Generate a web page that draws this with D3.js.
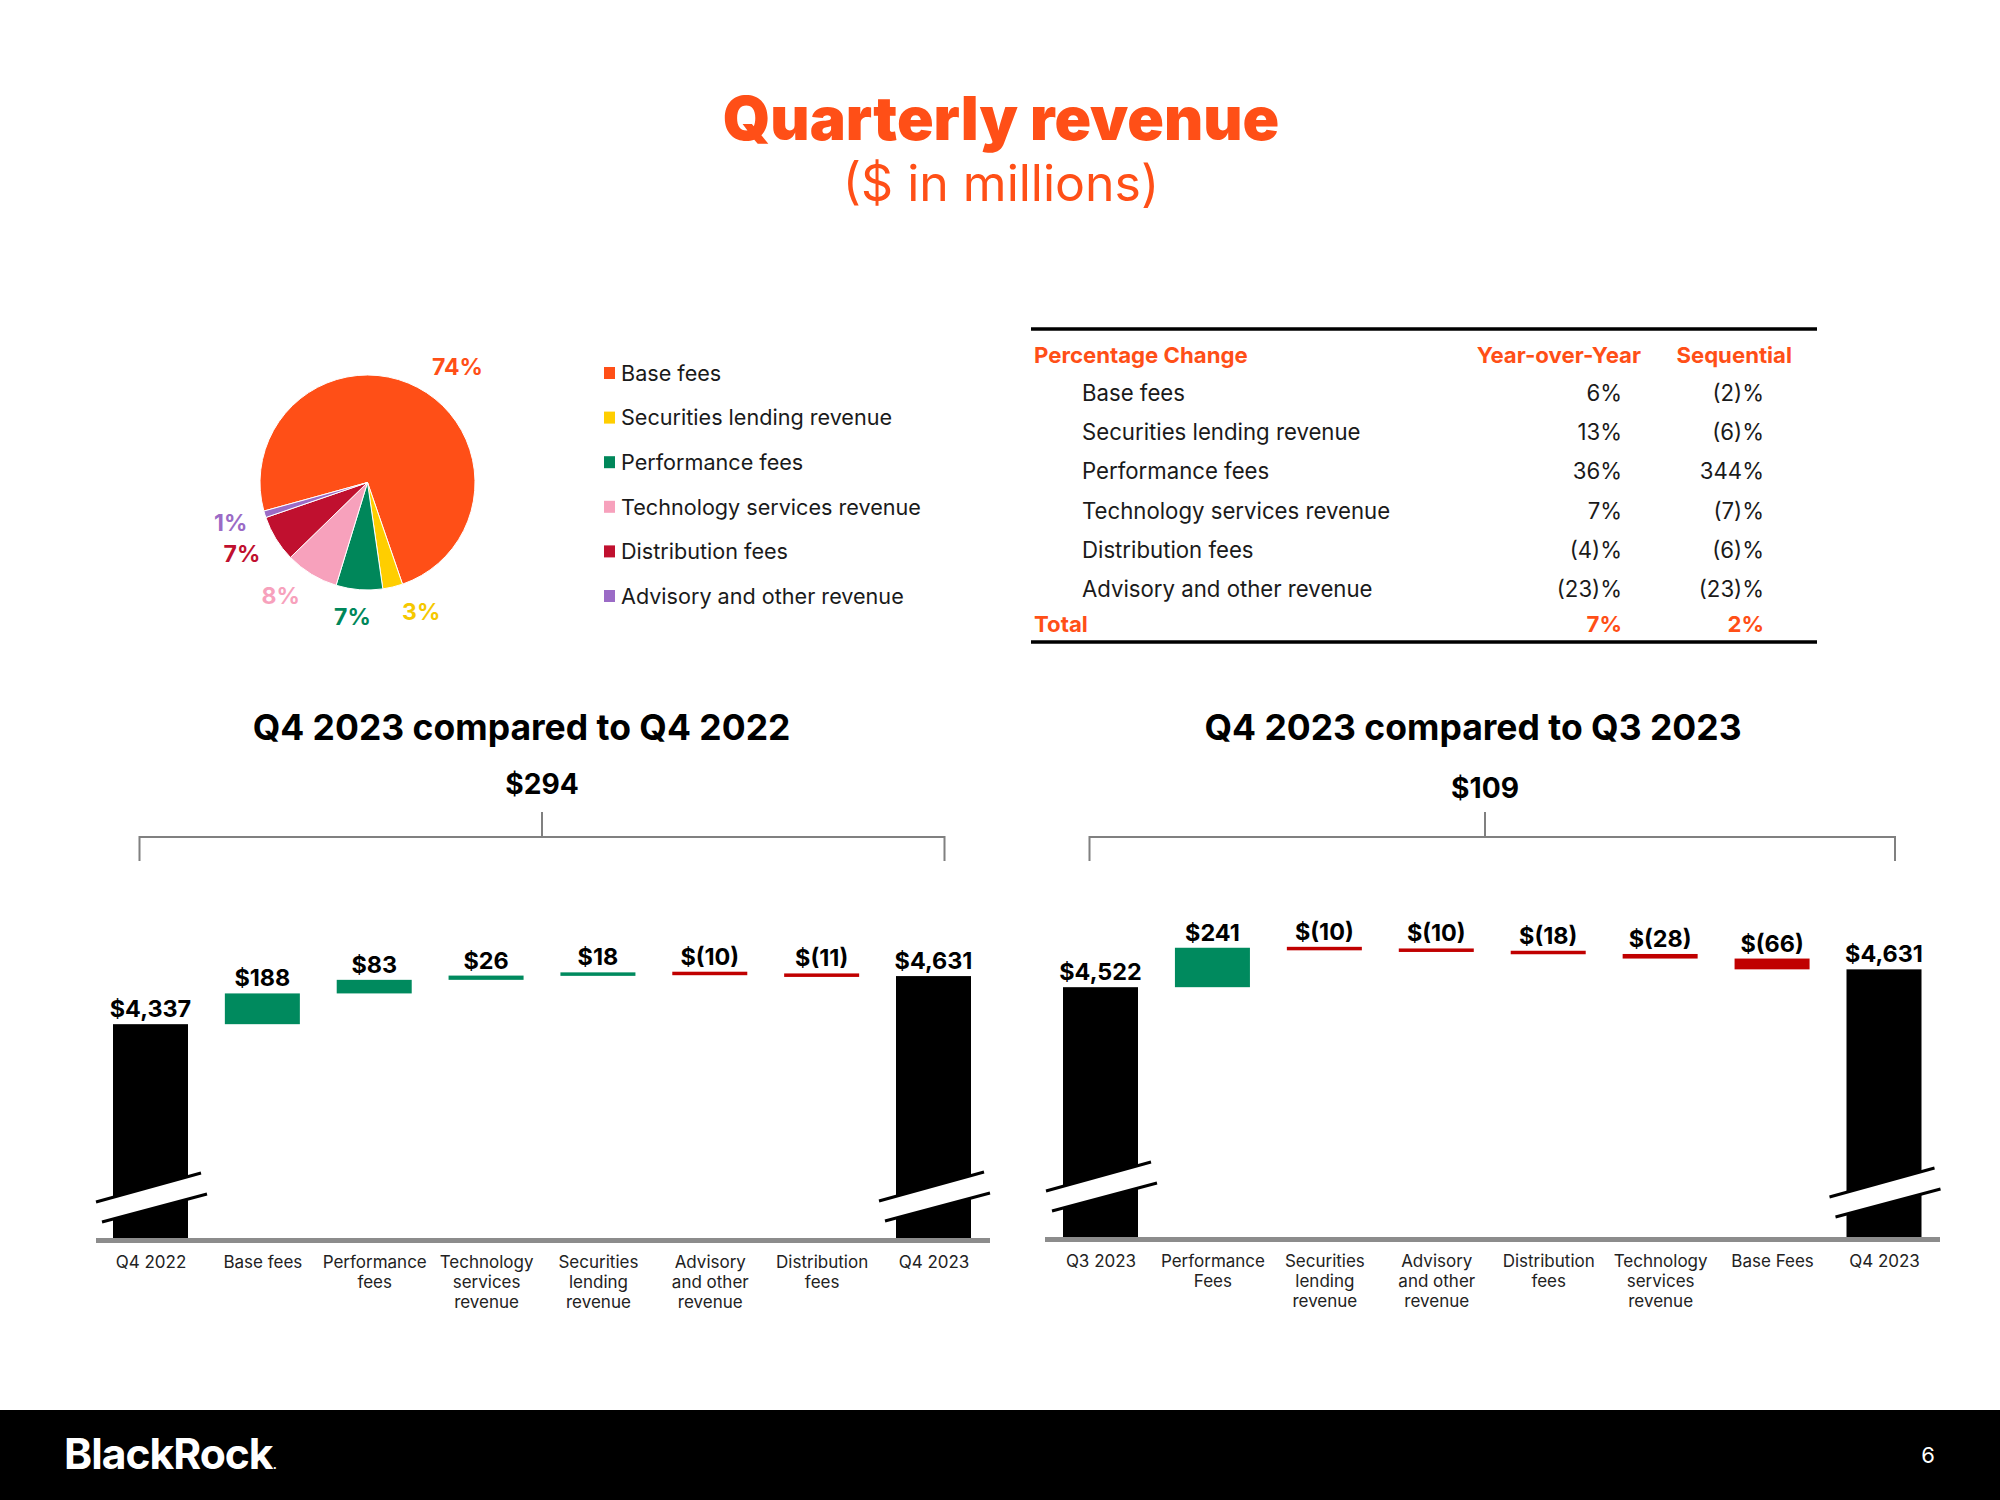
<!DOCTYPE html>
<html><head><meta charset="utf-8">
<script src="https://cdn.jsdelivr.net/npm/d3@7"></script>
<style>
body{margin:0;background:#fff}
svg{display:block}
text{font-family:Inter,"Noto Sans",sans-serif}
</style>
</head><body>
<svg id="c" width="2000" height="1500"></svg>
<script>
// ---------------- DATA ----------------
const pieCategories = ["Base fees","Securities lending revenue","Performance fees","Technology services revenue","Distribution fees","Advisory and other revenue"];
const pieShares = [74, 3, 7, 8, 7, 1];

const tableRows = ["Base fees","Securities lending revenue","Performance fees","Technology services revenue","Distribution fees","Advisory and other revenue"];
const yoyChange = ["6%","13%","36%","7%","(4)%","(23)%"];
const seqChange = ["(2)%","(6)%","344%","(7)%","(6)%","(23)%"];
const totalChange = ["7%","2%"];

const yoyCategories = [["Q4 2022"],["Base fees"],["Performance","fees"],["Technology","services","revenue"],["Securities","lending","revenue"],["Advisory","and other","revenue"],["Distribution","fees"],["Q4 2023"]];
const yoyValues = [4337, 188, 83, 26, 18, -10, -11, 4631];
const yoyTotalChange = 294;

const seqCategories = [["Q3 2023"],["Performance","Fees"],["Securities","lending","revenue"],["Advisory","and other","revenue"],["Distribution","fees"],["Technology","services","revenue"],["Base Fees"],["Q4 2023"]];
const seqValues = [4522, 241, -10, -10, -18, -28, -66, 4631];
const seqTotalChange = 109;

// ---------------- STYLE ----------------
const ORANGE = "#FF4F17";
const pieColors = ["#FF4F17","#FFCE00","#00875A","#F7A1BC","#C0102F","#9B6BC6"];
const pieLabelColors = ["#FF4F17","#F5C800","#00875A","#F7A1BC","#C0102F","#9B6BC6"];
const pieLabelNudgeDeg = [10, -9, 2, 6, 2, 1];
const UP = "#008A5E", DOWN = "#C00000", TOTAL = "#000000";

const svg = d3.select("#c");

// Titles
svg.append("text").attr("x",1001).attr("y",140).attr("text-anchor","middle")
  .attr("font-size",60.5).attr("font-weight",900).attr("fill",ORANGE).text("Quarterly revenue");
svg.append("text").attr("x",1001).attr("y",201).attr("text-anchor","middle")
  .attr("font-size",50).attr("font-weight",400).attr("fill",ORANGE).text("($ in millions)");

// ---------------- PIE ----------------
const pieG = svg.append("g").attr("transform","translate(367.5,482.5)");
const start = -105.4*Math.PI/180;
const pie = d3.pie().sort(null).value(d=>d).startAngle(start).endAngle(start+2*Math.PI);
const arcs = pie(pieShares);
const arc = d3.arc().innerRadius(0).outerRadius(107.5);
pieG.selectAll("path").data(arcs).join("path")
  .attr("d",arc).attr("fill",(d,i)=>pieColors[i]).attr("stroke","#fff").attr("stroke-width",1);
const pl = pieG.selectAll("text").data(arcs).join("text")
  .attr("text-anchor","middle").attr("dy","0.36em")
  .attr("font-size",23).attr("font-weight",700)
  .attr("fill",(d,i)=>pieLabelColors[i]).text(d=>d.data+"%");
pl.each(function(d,i){
  const w = this.getComputedTextLength()/2, h = 9;
  const a = (d.startAngle+d.endAngle)/2 + pieLabelNudgeDeg[i]*Math.PI/180;
  const ux = Math.sin(a), uy = -Math.cos(a);
  const r = 124 + w*Math.abs(ux) + h*Math.abs(uy);
  d3.select(this).attr("x", r*ux).attr("y", r*uy);
});

// Legend
const legY = d3.scaleLinear().domain([0,5]).range([373,596]);
const leg = svg.append("g");
leg.selectAll("rect").data(pieCategories).join("rect")
  .attr("x",604).attr("y",(d,i)=>legY(i)-6).attr("width",11).attr("height",12)
  .attr("fill",(d,i)=>pieColors[i]);
leg.selectAll("text").data(pieCategories).join("text")
  .attr("x",621).attr("y",(d,i)=>legY(i)).attr("dy","0.36em")
  .attr("font-size",21.6).attr("fill","#1a1a1a").text(d=>d);

// ---------------- TABLE ----------------
const tb = svg.append("g");
tb.append("line").attr("x1",1031).attr("x2",1817).attr("y1",329).attr("y2",329).attr("stroke","#000").attr("stroke-width",3.5);
tb.append("line").attr("x1",1031).attr("x2",1817).attr("y1",642).attr("y2",642).attr("stroke","#000").attr("stroke-width",3.5);
const hdr = tb.append("g").attr("font-size",22.2).attr("font-weight",700).attr("fill",ORANGE);
hdr.append("text").attr("x",1034).attr("y",355).attr("dy","0.36em").text("Percentage Change");
hdr.append("text").attr("x",1641).attr("y",355).attr("dy","0.36em").attr("text-anchor","end").text("Year-over-Year");
hdr.append("text").attr("x",1792).attr("y",355).attr("dy","0.36em").attr("text-anchor","end").text("Sequential");
const rowY = d3.scaleLinear().domain([0,5]).range([393,589]);
const body = tb.append("g").attr("font-size",22.2).attr("fill","#1a1a1a");
body.selectAll("text.lab").data(tableRows).join("text").attr("class","lab")
  .attr("x",1082).attr("y",(d,i)=>rowY(i)).attr("dy","0.36em").text(d=>d);
body.selectAll("text.yoy").data(yoyChange).join("text").attr("class","yoy")
  .attr("x",1622).attr("y",(d,i)=>rowY(i)).attr("dy","0.36em").attr("text-anchor","end").text(d=>d);
body.selectAll("text.seq").data(seqChange).join("text").attr("class","seq")
  .attr("x",1764).attr("y",(d,i)=>rowY(i)).attr("dy","0.36em").attr("text-anchor","end").text(d=>d);
const tot = tb.append("g").attr("font-size",22.2).attr("font-weight",700).attr("fill",ORANGE);
tot.append("text").attr("x",1034).attr("y",624).attr("dy","0.36em").text("Total");
tot.append("text").attr("x",1622).attr("y",624).attr("dy","0.36em").attr("text-anchor","end").text(totalChange[0]);
tot.append("text").attr("x",1764).attr("y",624).attr("dy","0.36em").attr("text-anchor","end").text(totalChange[1]);

// ---------------- WATERFALLS ----------------
const PX_PER_1000 = 163.6;
const fmt = v => v < 0 ? "$(" + d3.format(",")(-v) + ")" : "$" + d3.format(",")(v);

function waterfall(cfg){
  const g = svg.append("g");
  const n = cfg.values.length;
  const idx = d3.range(n);
  const x = d3.scalePoint().domain(idx).range(cfg.xRange);
  const y = d3.scaleLinear().domain([cfg.floor, cfg.floor+1000]).range([cfg.baseline, cfg.baseline-PX_PER_1000]);
  const bw = 75;
  let cum = 0;
  const segs = cfg.values.map((v,i)=>{
    if(i===0 || i===n-1){ cum = v; return {i, v, kind:"total", lo:cfg.floor, hi:v}; }
    const s = cum; cum += v;
    return {i, v, kind: v>=0?"up":"down", lo:Math.min(s,cum), hi:Math.max(s,cum)};
  });
  const top = d => d.kind==="total" ? y(d.hi) : Math.min(y(d.hi), (y(d.hi)+y(d.lo))/2 - 1.75);
  // title
  g.append("text").attr("x",cfg.titleX).attr("y",740).attr("text-anchor","middle")
    .attr("font-size",35.5).attr("font-weight",700).attr("fill","#000").text(cfg.title);
  g.append("text").attr("x",cfg.bracketX).attr("y",cfg.changeY).attr("text-anchor","middle")
    .attr("font-size",28.2).attr("font-weight",700).attr("fill","#000").text(fmt(cfg.change));
  // bracket
  const bl = x(0)-11, br = x(n-1)+11;
  g.append("path").attr("d",`M${bl},861V837H${br}V861M${cfg.bracketX},837V812`)
    .attr("fill","none").attr("stroke","#808080").attr("stroke-width",2);
  // bars
  g.selectAll("rect.bar").data(segs).join("rect").attr("class","bar")
    .attr("x",d=>x(d.i)-bw/2).attr("width",bw)
    .attr("y",top)
    .attr("height",d=> d.kind==="total" ? cfg.baseline - y(d.hi) : Math.max(y(d.lo)-y(d.hi), 3.5))
    .attr("fill",d=>d.kind==="total"?TOTAL:(d.kind==="up"?UP:DOWN));
  // value labels
  g.selectAll("text.val").data(segs).join("text").attr("class","val")
    .attr("x",d=>x(d.i)).attr("y",d=>top(d) - 7)
    .attr("text-anchor","middle").attr("font-size",23.4).attr("font-weight",700).attr("fill","#000")
    .text(d=>fmt(d.v));
  // breaks on total bars
  segs.filter(d=>d.kind==="total").forEach((d,k)=>{
    const x0 = x(d.i)-bw/2, yb = cfg.baseline - cfg.breakOff[k];
    g.append("path").attr("d",`M${x0-17},${yb}L${x0+88},${yb-29}L${x0+94},${yb-8}L${x0-11},${yb+20}Z`).attr("fill","#fff");
    g.append("line").attr("x1",x0-17).attr("y1",yb).attr("x2",x0+88).attr("y2",yb-29).attr("stroke","#000").attr("stroke-width",3);
    g.append("line").attr("x1",x0-11).attr("y1",yb+20).attr("x2",x0+94).attr("y2",yb-8).attr("stroke","#000").attr("stroke-width",3);
  });
  // axis line
  g.append("line").attr("x1",cfg.axisX[0]).attr("x2",cfg.axisX[1]).attr("y1",cfg.baseline+2.5).attr("y2",cfg.baseline+2.5)
    .attr("stroke","#8C8C8C").attr("stroke-width",5);
  // axis labels via d3 axis
  const ax = g.append("g").attr("transform",`translate(0,${cfg.baseline})`)
    .call(d3.axisBottom(x).tickSize(0).tickFormat(""));
  ax.select(".domain").remove();
  ax.selectAll(".tick text").each(function(i){
    const t = d3.select(this).attr("y",30).attr("dy",null).attr("font-size",17).attr("fill","#222")
      .attr("font-family",null);
    cfg.cats[i].forEach((line,j)=>{
      t.append("tspan").attr("x",0).attr("y",30+j*20).text(line);
    });
  });
}

waterfall({title:"Q4 2023 compared to Q4 2022", titleX:521.5, bracketX:542, change:yoyTotalChange, changeY:794,
  cats:yoyCategories, values:yoyValues, xRange:[150.5,933.5], axisX:[96,990], baseline:1238, floor:3030, breakOff:[36,37]});
waterfall({title:"Q4 2023 compared to Q3 2023", titleX:1473, bracketX:1485, change:seqTotalChange, changeY:798,
  cats:seqCategories, values:seqValues, xRange:[1100.5,1884], axisX:[1045,1940], baseline:1237, floor:2995, breakOff:[46,40]});

// ---------------- FOOTER ----------------
svg.append("rect").attr("x",0).attr("y",1410).attr("width",2000).attr("height",90).attr("fill","#000");
const brand = svg.append("text").attr("x",64).attr("y",1469).attr("font-size",42.6).attr("font-weight",700).attr("fill","#fff").attr("letter-spacing",-1);
brand.append("tspan").text("BlackRock");
brand.append("tspan").attr("font-size",16).attr("font-weight",400).text(".");
svg.append("text").attr("x",1928).attr("y",1463).attr("text-anchor","middle").attr("font-size",22).attr("fill","#fff").text("6");
</script>
</body></html>
